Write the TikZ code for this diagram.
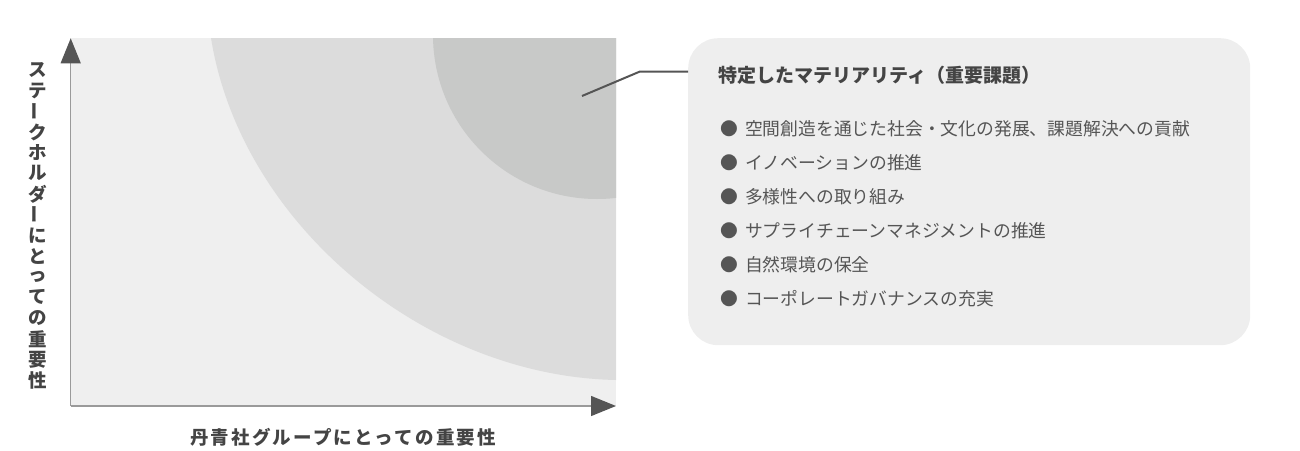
\documentclass[tikz,border=0pt]{standalone}
\usepackage{fontspec}
\setmainfont{Noto Sans CJK JP}
\newfontfamily\jplab[LetterSpace=12]{Noto Sans CJK JP}
\usetikzlibrary{arrows.meta}
\definecolor{chartbg}{HTML}{EFEFEF}
\definecolor{midband}{HTML}{DCDCDC}
\definecolor{coreband}{HTML}{C8C9C8}
\definecolor{axisc}{HTML}{9A9A9A}
\definecolor{tipc}{HTML}{555555}
\definecolor{boxbg}{HTML}{EEEEEE}
\definecolor{txtc}{HTML}{444444}
\definecolor{itemc}{HTML}{555555}
\newcommand\vbar{\rotatebox{90}{ー}}
\begin{document}
\begin{tikzpicture}[x=1pt,y=-1pt,
  axisline/.style={draw=axisc, line width=1.3pt, -{Triangle[width=20pt,length=25pt,color=tipc]}},
  leader/.style={draw=tipc, line width=2pt},
  panel/.style={fill=boxbg, draw=none, rounded corners=30pt, inner sep=0pt},
  titletext/.style={text=txtc, font=\fontsize{19pt}{22pt}\selectfont\bfseries, inner sep=0pt},
  itemtext/.style={text=itemc, font=\fontsize{17.8pt}{21pt}\selectfont, inner sep=0pt},
  ylab/.style={text=txtc, font=\fontsize{18.5pt}{20pt}\selectfont\bfseries, inner sep=0pt},
  xlab/.style={text=txtc, font=\fontsize{18.5pt}{20pt}\selectfont\jplab\bfseries, inner sep=0pt}]
\useasboundingbox (0,0) rectangle (1300,450);
% chart background and bands
\fill[chartbg] (70,38) rectangle (616,406);
\begin{scope}
  \clip (70,38) rectangle (616,406);
  \fill[midband] (211,38) .. controls (240.5,222.3) and (422.7,376.1) .. (616,380) -- (616,38) -- cycle;
  \fill[coreband] (597,35) circle[radius=164];
\end{scope}
% axes
\coordinate (origin) at (70.7,406);
\coordinate (ytip) at (70.7,38.3);
\coordinate (xtip) at (616,406);
\draw[axisline] (origin) -- (ytip);
\draw[axisline] (origin) -- (xtip);
% axis labels
\foreach \c [count=\i] in {ス,テ,\vbar,ク,ホ,ル,ダ,\vbar,に,と,っ,て,の,重,要,性}
  \node[ylab] (ylab\i) at (37.3,{70+(\i-1)*20.67}) {\c};
\node[xlab] (xlab) at (343,437) {丹青社グループにとっての重要性};
% panel
\node[panel, anchor=north west, minimum width=562pt, minimum height=307pt] (panel) at (688,38) {};
\node[titletext, anchor=west] (title) at (718.5,75) {特定したマテリアリティ（重要課題）};
\foreach \t [count=\i] in {空間創造を通じた社会・文化の発展、課題解決への貢献,イノベーションの推進,多様性への取り組み,サプライチェーンマネジメントの推進,自然環境の保全,コーポレートガバナンスの充実}
  \node[itemtext, anchor=west] (item\i) at (720,{128.7+(\i-1)*33.9}) {●\hspace{7pt}\t};
% leader
\coordinate (lstart) at (582,96);
\coordinate (lbend) at (639.5,71.7);
\draw[leader] (lstart) -- (lbend) -- (lbend -| panel.west);
\end{tikzpicture}
\end{document}
